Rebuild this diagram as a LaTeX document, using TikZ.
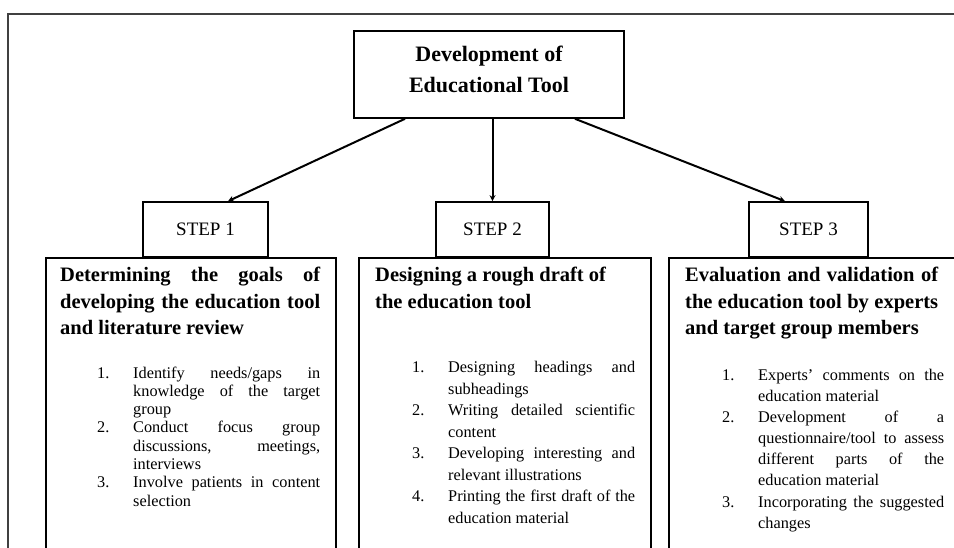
\documentclass[tikz,border=0pt]{standalone}
\usepackage{fontspec}
\setmainfont{Liberation Serif}
\usetikzlibrary{arrows.meta}
\newcommand{\titlesize}{\fontsize{22}{31}\selectfont\bfseries}
\newcommand{\headsize}{\fontsize{20.5}{26.5}\selectfont\bfseries}
\newcommand{\itemsize}[1]{\fontsize{16.3}{#1}\selectfont}
\newcommand{\numitem}[2]{\noindent\hangindent=36pt\hangafter=1\makebox[36pt][l]{#1.}#2\par}
\begin{document}
\begin{tikzpicture}[
x=1pt,
y=-1pt,
box/.style={draw,line width=1.6pt,inner sep=0pt},
stepbox/.style={box,minimum height=55pt,fill=white,font=\fontsize{19}{23}\selectfont},
panel/.style={box,anchor=north west,minimum height=330pt},
head/.style={anchor=base west,inner sep=0pt,align=justify,font=\headsize},
items/.style={anchor=base west,inner sep=0pt,align=justify},
link/.style={line width=2pt,-{Stealth[length=6pt,width=6pt]}}
]
\useasboundingbox (0,0) rectangle (954,548);
\clip (0,0) rectangle (954,548);
\draw[line width=1.4pt,black!75] (8,14) rectangle (975,575);

\node[box,minimum width=270pt,minimum height=87pt,align=center,font=\titlesize] (tool) at (489,74.5) {Development of\\Educational Tool\rule[-10pt]{0pt}{10pt}};

\node[panel,minimum width=290pt] (panel1) at (45,257) {};
\node[panel,minimum width=292pt] (panel2) at (358,257) {};
\node[panel,minimum width=320pt] (panel3) at (668,257) {};

\node[stepbox,minimum width=125pt] (step1) at (205.5,229.5) {STEP 1};
\node[stepbox,minimum width=113pt] (step2) at (492.5,229.5) {STEP 2};
\node[stepbox,minimum width=119pt] (step3) at (808.5,229.5) {STEP 3};

\node[head,text width=260pt] (head1) at (60,282) {Determining the goals of\linebreak developing the education tool\linebreak and literature review};
\node[head,text width=260pt] (head2) at (375,282) {Designing a rough draft of\\the education tool};
\node[head,text width=253pt] (head3) at (685,282) {Evaluation and validation of\linebreak the education tool by experts\linebreak and target group members};

\node[items,text width=223pt,font=\itemsize{18.3}] (list1) at (97,378) {%
\numitem{1}{Identify needs/gaps in\linebreak knowledge of the target\linebreak group}
\numitem{2}{Conduct focus group\linebreak discussions, meetings,\linebreak interviews}
\numitem{3}{Involve patients in content\linebreak selection}};
\node[items,text width=223pt,font=\itemsize{21.5}] (list2) at (412,373) {%
\numitem{1}{Designing headings and\linebreak subheadings}
\numitem{2}{Writing detailed scientific\linebreak content}
\numitem{3}{Developing interesting and\linebreak relevant illustrations}
\numitem{4}{Printing the first draft of the\linebreak education material}};
\node[items,text width=222pt,font=\itemsize{21.2}] (list3) at (722,380) {%
\numitem{1}{Experts' comments on the\linebreak education material}
\numitem{2}{Development of a\linebreak questionnaire/tool to assess\linebreak different parts of the\linebreak education material}
\numitem{3}{Incorporating the suggested\linebreak changes}};

\draw[link] ([xshift=-84pt]tool.south) -- ([xshift=22.5pt]step1.north);
\draw[link] (tool.south -| step2.north) -- (step2.north);
\draw[link] ([xshift=86pt]tool.south) -- ([xshift=-23.5pt]step3.north);
\end{tikzpicture}
\end{document}
